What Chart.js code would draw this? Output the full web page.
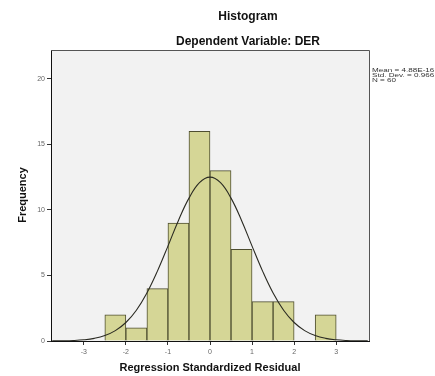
<!DOCTYPE html>
<html><head><meta charset="utf-8">
<script src="https://cdn.jsdelivr.net/npm/chart.js@4.4.0/dist/chart.umd.min.js"></script>
<style>html,body{margin:0;padding:0;background:#fff}#wrap{width:435px;height:376px}</style>
</head><body><div id="wrap"><canvas id="c" width="435" height="376"></canvas></div>
<script>
const binCenters = [-2.25,-1.75,-1.25,-0.75,-0.25,0.25,0.75,1.25,1.75,2.25,2.75];
const frequencies = [2,1,4,9,16,13,7,3,3,0,2];
const curveX = [-3.75,-3.5,-3.25,-3,-2.75,-2.5,-2.25,-2,-1.75,-1.5,-1.25,-1,-0.75,-0.5,-0.25,0,0.25,0.5,0.75,1,1.25,1.5,1.75,2,2.25,2.5,2.75,3,3.25,3.5,3.75];
const curveY = [0.006,0.016,0.039,0.092,0.201,0.412,0.789,1.41,2.35,3.66,5.33,7.24,9.20,10.90,12.08,12.5,12.08,10.90,9.20,7.24,5.33,3.66,2.35,1.41,0.789,0.412,0.201,0.092,0.039,0.016,0.006];
const xTicks = [-3,-2,-1,0,1,2,3];
const yTicks = [0,5,10,15,20];
const titleText = "Histogram";
const subtitleText = "Dependent Variable: DER";
const xTitle = "Regression Standardized Residual";
const yTitle = "Frequency";
const statsLines = ["Mean = 4.88E-16","Std. Dev. = 0.966","N = 60"];

const decor = {
  id:'decor',
  beforeDraw(chart){
    const {ctx, chartArea:a} = chart;
    ctx.save();
    ctx.fillStyle = '#f2f2f2';
    ctx.fillRect(a.left, a.top, a.right-a.left, a.bottom-a.top);
    ctx.restore();
  },
  afterDraw(chart){
    const {ctx, chartArea:a} = chart;
    ctx.save();
    ctx.strokeStyle = '#555';
    ctx.lineWidth = 1;
    ctx.beginPath();
    ctx.moveTo(a.left, a.top+0.5); ctx.lineTo(a.right+0.5, a.top+0.5); ctx.lineTo(a.right+0.5, a.bottom);
    ctx.stroke();
    ctx.fillStyle = '#111';
    ctx.textAlign = 'center';
    ctx.textBaseline = 'middle';
    ctx.font = 'bold 12px "Liberation Sans", Arial, sans-serif';
    ctx.fillText(titleText, 248, 17);
    ctx.fillText(subtitleText, 248, 42);
    ctx.font = 'bold 11px "Liberation Sans", Arial, sans-serif';
    ctx.fillText(xTitle, 210, 368);
    ctx.save();
    ctx.translate(23, 195);
    ctx.rotate(-Math.PI/2);
    ctx.fillText(yTitle, 0, 0);
    ctx.restore();
    ctx.textAlign = 'left';
    ctx.fillStyle = '#333';
    ctx.font = '6px "Liberation Sans", Arial, sans-serif';
    statsLines.forEach((s,i)=>{
      ctx.save();
      ctx.translate(372, 70+i*5.2);
      ctx.scale(1.35, 1);
      ctx.fillText(s, 0, 0);
      ctx.restore();
    });
    ctx.restore();
  }
};

new Chart(document.getElementById('c'), {
  data: {
    datasets: [
      {
        type:'line',
        data: curveX.map((x,i)=>({x, y:curveY[i]})),
        borderColor:'#2a2a22',
        borderWidth:1.1,
        pointRadius:0,
        tension:0.4,
        fill:false,
        order:0
      },
      {
        type:'bar',
        data: binCenters.map((x,i)=>({x, y:frequencies[i]})),
        backgroundColor:'#d5d696',
        borderColor:'#4e4e30',
        borderWidth:1,
        barPercentage:1.0,
        categoryPercentage:1.0,
        order:1
      }
    ]
  },
  options: {
    responsive:false,
    animation:false,
    layout:{padding:{left:0, top:50, right:66, bottom:0}},
    plugins:{legend:{display:false}, tooltip:{enabled:false}},
    scales:{
      x:{
        type:'linear', min:-3.78, max:3.78, offset:false,
        afterBuildTicks(s){ s.ticks = xTicks.map(v=>({value:v})); },
        afterFit(s){ s.height = 35; },
        grid:{display:true, offset:false, drawOnChartArea:false, drawTicks:true, tickLength:4, color:'#333'},
        border:{display:true, color:'#111', width:1},
        ticks:{font:{size:7, family:'"Liberation Sans", Arial, sans-serif'}, color:'#666', padding:3, maxRotation:0, autoSkip:false}
      },
      y:{
        type:'linear', min:0, max:22.2,
        afterBuildTicks(s){ s.ticks = yTicks.map(v=>({value:v})); },
        afterFit(s){ s.width = 51; },
        grid:{display:true, offset:false, drawOnChartArea:false, drawTicks:true, tickLength:4, color:'#333'},
        border:{display:true, color:'#111', width:1},
        ticks:{font:{size:7, family:'"Liberation Sans", Arial, sans-serif'}, color:'#666', padding:2}
      }
    }
  },
  plugins:[decor]
});
</script></body></html>
